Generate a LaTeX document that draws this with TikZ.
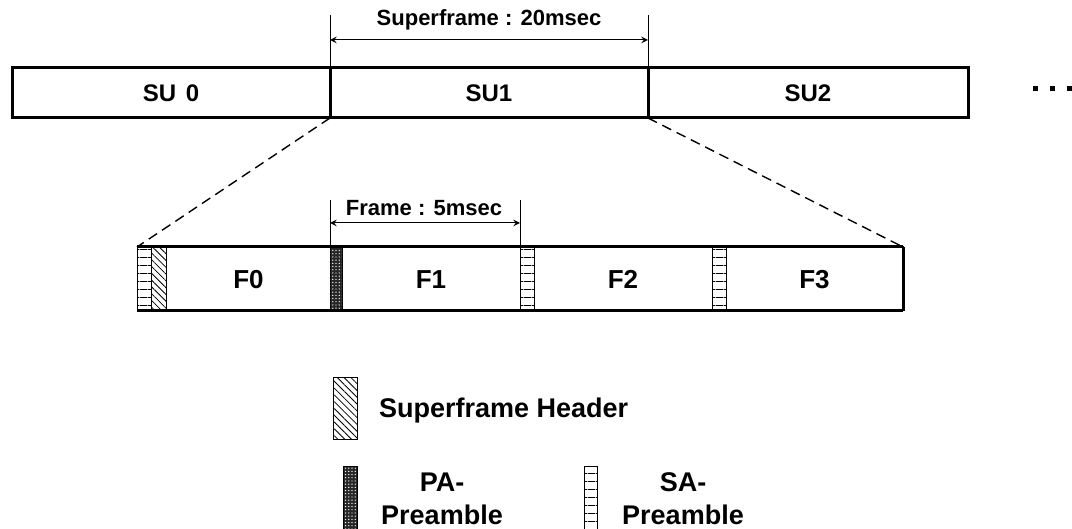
\documentclass[tikz,border=0pt]{standalone}
\usepackage{fontspec}
\setmainfont{Liberation Sans}
\usetikzlibrary{arrows, patterns.meta}
\tikzstyle{subox} = [rectangle, draw, line width=1.5pt, inner sep=0pt, outer sep=0pt, minimum height=25pt, text height=8.6pt, text depth=0pt, anchor=north west, font=\bfseries\fontsize{12}{14}\selectfont]
\tikzstyle{framebox} = [rectangle, draw, line width=0.5pt, inner sep=0pt, outer sep=0pt, minimum height=32pt, text height=9.3pt, text depth=0pt, anchor=north west, font=\bfseries\fontsize{13}{15}\selectfont]
\tikzstyle{sapre} = [framebox, minimum width=7pt, pattern={Lines[angle=0, distance=4pt, line width=0.4pt]}]
\tikzstyle{papre} = [framebox, minimum width=6pt, fill=black!85, postaction={pattern={Dots[distance=1.6pt, radius=0.35pt]}, pattern color=white}]
\tikzstyle{sfhead} = [framebox, minimum width=7.5pt, pattern={Lines[angle=-45, distance=2.4pt, line width=0.4pt]}]
\tikzstyle{arrow} = [line width=0.5pt,<->,>=stealth]
\tikzstyle{tick} = [line width=0.5pt]
\tikzstyle{dimtext} = [font=\bfseries\fontsize{11}{13}\selectfont]
\tikzstyle{legtext} = [font=\bfseries\fontsize{13.5}{16.5}\selectfont]

\begin{document}
\begin{tikzpicture}[x=0.5pt, y=-0.5pt]
\useasboundingbox (0,0) rectangle (1072,529);

% superframes
\node (su0) [subox, minimum width=159pt] at (12,68) {SU\hspace{0.4em}0};
\node (su1) [subox, minimum width=159pt] at (330,68) {SU1};
\node (su2) [subox, minimum width=160pt] at (648,68) {SU2};
\foreach \dx in {1035,1052,1069}
  \fill (\dx-2.5,89-2.5) rectangle (\dx+2.5,89+2.5);

% frames
\node (sa0) [sapre] at (137,247) {};
\node (sh) [sfhead] at (151,247) {};
\node (f0) [framebox, minimum width=82.5pt] at (166,247) {F0};
\node (pa1) [papre] at (330,247) {};
\node (f1) [framebox, minimum width=89pt] at (342,247) {F1};
\node (sa2) [sapre] at (520,247) {};
\node (f2) [framebox, minimum width=89pt] at (534,247) {F2};
\node (sa3) [sapre] at (712,247) {};
\node (f3) [framebox, minimum width=88.5pt] at (726,247) {F3};
\draw [line width=1.5pt] (sa0.north west) -- (f3.north east);
\draw [line width=1.5pt] (sa0.south west) -- (f3.south east);
\draw [line width=1.5pt] (f3.north east) -- (f3.south east);

%%% zoom lines %%%%%%%%%%%%%%%%%%%%%%%
\draw [dashed, line width=0.7pt, dash pattern=on 5pt off 3pt] (su1.south west) -- (sa0.north west);
\draw [dashed, line width=0.7pt, dash pattern=on 5pt off 3pt] (su1.south east) -- (f3.north east);

%%% dimensions %%%%%%%%%%%%%%%%%%%%%%%
\coordinate (sfl) at (330,15);
\coordinate (sfr) at (648,15);
\draw [tick] (sfl) -- (su1.north west);
\draw [tick] (sfr) -- (su1.north east);
\draw [arrow] (330,40) -- (648,40);
\node (sftext) [dimtext] at (489,20) {Superframe : 20msec};

\coordinate (frl) at (330,200);
\coordinate (frr) at (520,200);
\draw [tick] (frl) -- (pa1.north west);
\draw [tick] (frr) -- (sa2.north west);
\draw [arrow] (330,223) -- (520,223);
\node (frtext) [dimtext] at (424,208) {Frame : 5msec};

%%% legend %%%%%%%%%%%%%%%%%%%%%%%
\node (lgsh) [sfhead, minimum width=12pt, minimum height=31pt] at (333,378) {};
\node (lgshtext) [anchor=west, legtext] at (372,411) {Superframe Header};
\node (lgpa) [papre, minimum width=7pt, minimum height=32pt] at (343,467) {};
\node (lgpatext) [align=center, legtext] at (442,499) {PA-\\Preamble};
\node (lgsa) [sapre, minimum width=6.5pt, minimum height=32pt] at (584,467) {};
\node (lgsatext) [align=center, legtext] at (683,499) {SA-\\Preamble};
\end{tikzpicture}
\end{document}
